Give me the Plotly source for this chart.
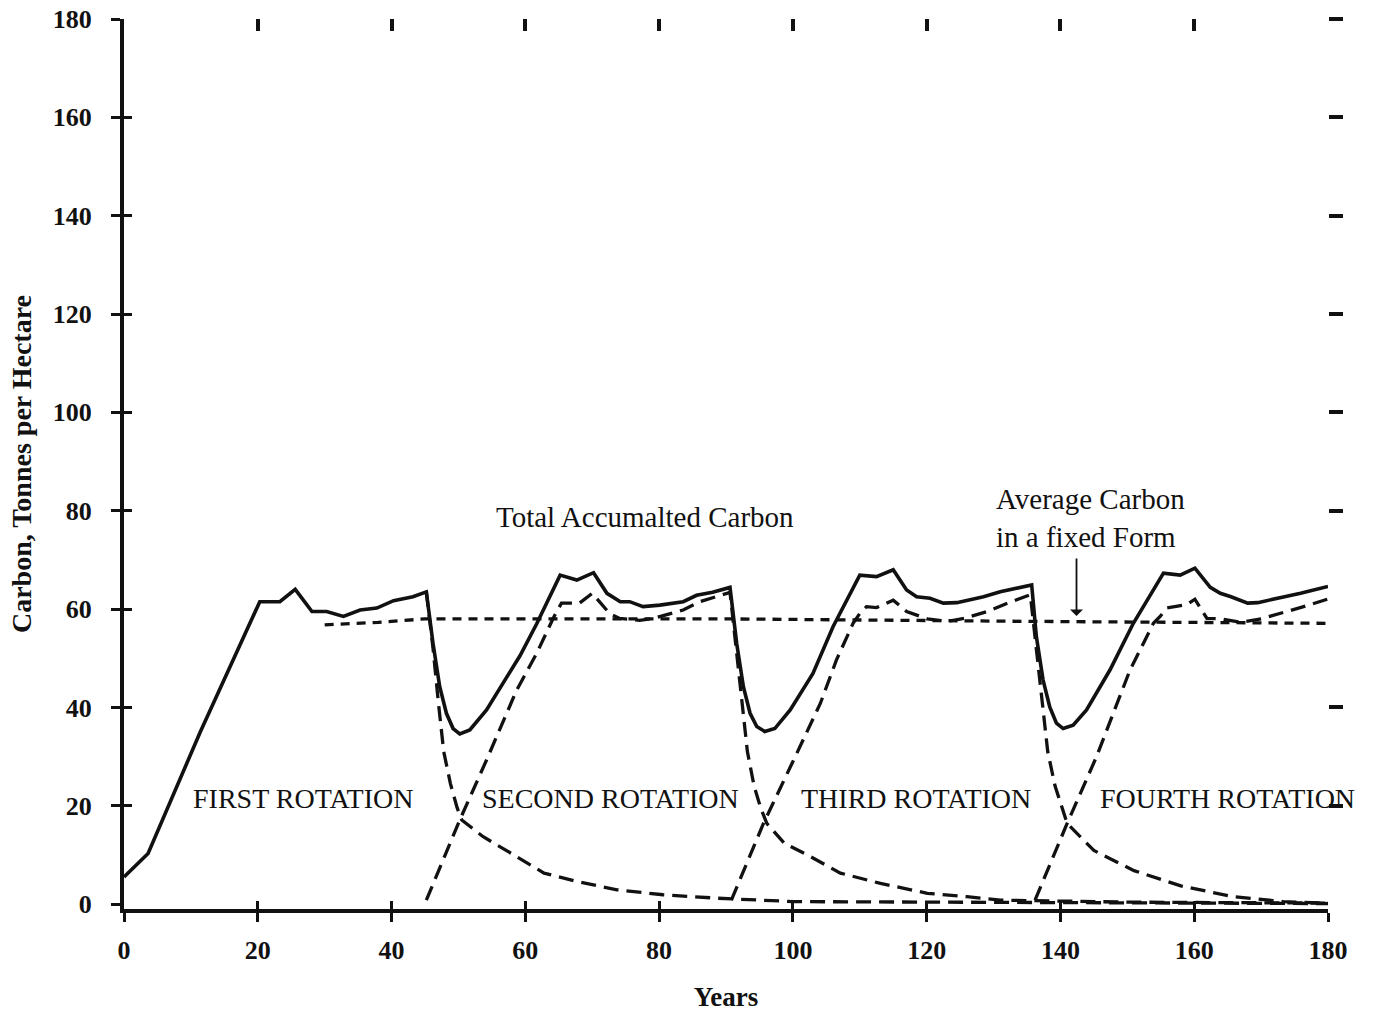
import plotly.graph_objects as go

# Total accumulated carbon (tonnes C per hectare) over four rotations
total_years = [0, 3.6, 11.4, 20.3, 23.3, 25.6, 28.1, 30.3, 32.8, 35.3, 37.8, 40.3, 43.2, 45.2,
               46.2, 47.2, 48.2, 49.2, 50.2, 51.7, 54.2, 59.2, 61.7, 65.2, 67.7, 70.2, 72.2,
               74.2, 75.6, 77.6, 80.1, 83.6, 85.6, 88.0, 90.6,
               91.6, 92.6, 93.6, 94.6, 95.8, 97.3, 99.6, 103.0, 106.0, 110.0, 112.5, 115.0,
               117.0, 118.5, 120.5, 122.5, 124.5, 128.5, 131.0, 135.7,
               136.4, 137.4, 138.4, 139.4, 140.4, 141.9, 143.9, 147.4, 150.9, 155.4, 157.9,
               160.1, 162.4, 163.9, 165.5, 168.0, 169.5, 173.5, 175.9, 180.0]
total_carbon = [5.5, 10.3, 35.0, 61.5, 61.5, 64.0, 59.5, 59.5, 58.5, 59.8, 60.2, 61.7, 62.5, 63.5,
                53.0, 44.2, 38.8, 35.7, 34.6, 35.4, 39.5, 50.5, 57.0, 66.9, 65.9, 67.4, 63.2,
                61.5, 61.5, 60.5, 60.8, 61.5, 62.8, 63.4, 64.4,
                53.0, 44.2, 38.8, 36.1, 35.1, 35.7, 39.5, 46.9, 56.4, 66.9, 66.6, 68.0,
                63.9, 62.5, 62.2, 61.2, 61.3, 62.5, 63.5, 64.9,
                54.4, 45.6, 40.1, 36.8, 35.7, 36.4, 39.5, 47.6, 57.1, 67.3, 66.9,
                68.3, 64.4, 63.2, 62.5, 61.2, 61.3, 62.5, 63.2, 64.6]

# Average carbon held in a fixed form
avg_years = [30, 38, 45, 90, 135, 180]
avg_carbon = [56.8, 57.3, 58.0, 58.0, 57.5, 57.1]

# First rotation stand after harvest (residual decay)
rot1_years = [45.2, 46.2, 47.0, 47.8, 48.8, 49.8, 50.5, 53.7, 57.9, 62.8, 67.7, 73.7, 80.6,
              88.6, 100.1, 130.0, 180.0]
rot1_carbon = [63.5, 52.0, 41.0, 31.0, 24.5, 19.6, 17.1, 13.7, 10.3, 6.3, 4.6, 2.9, 1.9,
               1.2, 0.5, 0.3, 0.1]

# Second rotation: growth, harvest, decay
rot2_years = [45.2, 50.2, 54.2, 58.7, 61.7, 64.3, 65.4, 68.1, 70.0, 72.6, 74.1, 77.1, 79.1,
              83.6, 86.1, 90.6, 91.6, 92.4, 93.2, 94.2, 95.2, 96.1, 98.7, 102.7, 107.1,
              113.1, 120.1, 126.0, 131.0, 150.0, 180.0]
rot2_carbon = [0.8, 17.1, 29.3, 43.5, 51.0, 58.5, 61.2, 61.2, 63.2, 59.1, 58.1, 57.7, 58.1,
               59.8, 61.5, 63.4, 51.0, 41.0, 31.0, 24.0, 19.5, 16.4, 12.4, 9.6, 6.3,
               4.2, 2.2, 1.5, 0.8, 0.4, 0.2]

# Third rotation: growth, harvest, decay
rot3_years = [90.8, 95.6, 100.6, 104.1, 106.5, 109.0, 110.0, 111.0, 112.5, 115.0, 117.0,
              120.1, 123.1, 125.6, 129.1, 132.1, 135.5, 136.5, 137.3, 138.1, 139.2, 140.2,
              141.0, 145.0, 151.0, 158.0, 165.8, 173.3, 180.0]
rot3_carbon = [0.8, 16.4, 30.7, 40.8, 49.6, 57.1, 59.1, 60.5, 60.3, 61.8, 59.5,
               58.0, 57.5, 58.1, 59.5, 61.2, 62.9, 51.0, 41.0, 31.0, 24.0, 19.5,
               16.4, 10.9, 6.8, 3.7, 1.5, 0.5, 0.2]

# Fourth rotation: growth
rot4_years = [136.2, 141.0, 145.4, 150.4, 153.9, 154.9, 155.9, 158.9, 160.1, 161.9, 164.0,
              167.0, 170.0, 173.5, 176.9, 179.9]
rot4_carbon = [0.8, 16.4, 30.0, 47.6, 57.1, 58.5, 60.2, 60.9, 62.0, 58.1, 58.0,
               57.3, 58.0, 59.3, 60.7, 62.0]

tick_vals = [0, 20, 40, 60, 80, 100, 120, 140, 160, 180]
frame_y_ticks = [20, 40, 80, 100, 120, 140, 160, 180]
frame_x_ticks = [20, 40, 60, 80, 100, 120, 140, 160, 180]

rotation_labels = ["FIRST ROTATION", "SECOND ROTATION", "THIRD ROTATION", "FOURTH ROTATION"]
rotation_label_x = [26.8, 72.7, 118.4, 164.9]
rotation_label_y = 21.4

SERIF = "Liberation Serif, Times New Roman, serif"
INK = "#111111"
X_RANGE = [0, 180]
Y_RANGE = [-1, 180]

fig = go.Figure()

dashed = dict(color=INK, width=3.3, dash="15px,8px")
for xs, ys in [(rot1_years, rot1_carbon), (rot2_years, rot2_carbon),
               (rot3_years, rot3_carbon), (rot4_years, rot4_carbon)]:
    fig.add_trace(go.Scatter(x=xs, y=ys, mode="lines", line=dashed,
                             hoverinfo="skip", cliponaxis=False))

fig.add_trace(go.Scatter(x=avg_years, y=avg_carbon, mode="lines",
                         line=dict(color=INK, width=3.3, dash="9px,7px"),
                         hoverinfo="skip"))

fig.add_trace(go.Scatter(x=total_years, y=total_carbon, mode="lines",
                         line=dict(color=INK, width=3.6), hoverinfo="skip"))

for label, lx in zip(rotation_labels, rotation_label_x):
    fig.add_annotation(x=lx, y=rotation_label_y, text=label, showarrow=False,
                       font=dict(family=SERIF, size=28, color=INK),
                       xanchor="center", yanchor="middle")

fig.add_annotation(x=77.9, y=78.7, text="Total Accumalted Carbon", showarrow=False,
                   font=dict(family=SERIF, size=29, color=INK),
                   xanchor="center", yanchor="middle")

fig.add_annotation(x=130.0, y=78.6, text="Average Carbon<br>in a fixed Form",
                   showarrow=False, align="left",
                   font=dict(family=SERIF, size=29, color=INK),
                   xanchor="left", yanchor="middle")

fig.add_annotation(x=142.4, y=58.6, ax=142.4, ay=70.6, xref="x", yref="y",
                   axref="x", ayref="y", text="", showarrow=True,
                   arrowhead=1, arrowsize=1.2, arrowwidth=1.8, arrowcolor=INK)

fig.update_layout(
    template="none",
    width=1380, height=1014,
    margin=dict(l=124, r=52, t=19, b=105, autoexpand=False),
    paper_bgcolor="white", plot_bgcolor="white",
    showlegend=False,
    xaxis=dict(range=X_RANGE, tickvals=tick_vals, ticktext=[str(v) for v in tick_vals],
               ticks="outside", ticklen=9, tickwidth=3, tickcolor=INK, automargin=False,
               showline=True, linewidth=4, linecolor=INK, showgrid=False, zeroline=False,
               tickfont=dict(family=SERIF, size=26, color=INK, weight="bold"),
               ticklabelstandoff=6,
               title=dict(text="<b>Years</b>", font=dict(family=SERIF, size=27, color=INK),
                          standoff=24)),
    yaxis=dict(range=Y_RANGE, tickvals=tick_vals, ticktext=[str(v) for v in tick_vals],
               ticks="outside", ticklen=9, tickwidth=3, tickcolor=INK, automargin=False,
               showline=True, linewidth=4, linecolor=INK, showgrid=False, zeroline=False,
               tickfont=dict(family=SERIF, size=26, color=INK, weight="bold"),
               ticklabelstandoff=14,
               title=dict(text="<b>Carbon, Tonnes per Hectare</b>",
                          font=dict(family=SERIF, size=28, color=INK), standoff=14)),
    # inner halves of the crossing ticks on the main axes
    xaxis3=dict(range=X_RANGE, overlaying="x", side="bottom", anchor="y", automargin=False,
                tickvals=tick_vals[1:], ticks="inside", ticklen=8, tickwidth=3,
                tickcolor=INK, showticklabels=False, showline=False, showgrid=False,
                zeroline=False),
    yaxis3=dict(range=Y_RANGE, overlaying="y", side="left", anchor="x", automargin=False,
                tickvals=tick_vals[1:], ticks="inside", ticklen=8, tickwidth=3,
                tickcolor=INK, showticklabels=False, showline=False, showgrid=False,
                zeroline=False),
    # frame ticks along the top and right edges
    xaxis2=dict(range=X_RANGE, overlaying="x", side="top", anchor="y", automargin=False,
                tickvals=frame_x_ticks, ticks="inside", ticklen=12, tickwidth=3.5,
                tickcolor=INK, showticklabels=False, showline=False, showgrid=False,
                zeroline=False),
    yaxis2=dict(range=Y_RANGE, overlaying="y", side="right", anchor="x", automargin=False,
                tickvals=frame_y_ticks, ticks="outside", ticklen=14, tickwidth=4,
                tickcolor=INK, showticklabels=False, showline=False, showgrid=False,
                zeroline=False),
)

# invisible anchors so the overlay axes are rendered
fig.add_trace(go.Scatter(x=[0], y=[0], xaxis="x2", yaxis="y2", mode="markers",
                         marker=dict(opacity=0), hoverinfo="skip"))
fig.add_trace(go.Scatter(x=[0], y=[0], xaxis="x3", yaxis="y3", mode="markers",
                         marker=dict(opacity=0), hoverinfo="skip"))

fig.write_html("out.html")
